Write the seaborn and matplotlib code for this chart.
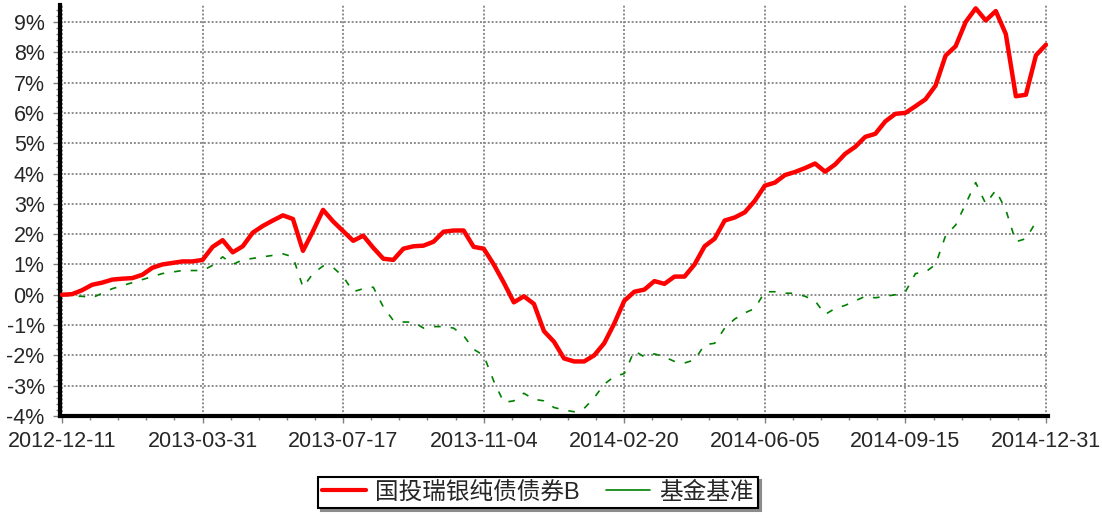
"""Fund vs benchmark cumulative return, 2012-12-11 to 2014-12-31"""
import numpy as np
import pandas as pd
import seaborn as sns
import matplotlib.pyplot as plt
from matplotlib.ticker import MultipleLocator, FuncFormatter

FUND_NAME = "国投瑞银纯债债券B"
BENCH_NAME = "基金基准"

# cumulative return in %, one value every 5 trading days
FUND = [0.0, 0.02, 0.15, 0.33, 0.4, 0.5, 0.53, 0.55, 0.66, 0.89,
        1.0, 1.05, 1.1, 1.1, 1.15, 1.58, 1.8, 1.4, 1.6, 2.05,
        2.27, 2.45, 2.62, 2.5, 1.45, 2.1, 2.8, 2.42, 2.1, 1.78,
        1.95, 1.55, 1.19, 1.15, 1.52, 1.6, 1.62, 1.75, 2.08, 2.12,
        2.12, 1.58, 1.52, 1.0, 0.4, -0.25, -0.05, -0.3, -1.2, -1.55,
        -2.1, -2.2, -2.2, -2.0, -1.6, -0.95, -0.2, 0.1, 0.17, 0.45,
        0.36, 0.6, 0.6, 1.0, 1.6, 1.85, 2.45, 2.55, 2.72, 3.1,
        3.6, 3.7, 3.95, 4.05, 4.18, 4.33, 4.06, 4.3, 4.65, 4.88,
        5.21, 5.31, 5.72, 5.97, 6.0, 6.22, 6.45, 6.9, 7.89, 8.2,
        9.0, 9.45, 9.05, 9.36, 8.6, 6.55, 6.6, 7.9, 8.25]
BENCH = [0.0, -0.05, -0.05, -0.1, 0.05, 0.2, 0.3, 0.4, 0.5, 0.6,
         0.7, 0.75, 0.8, 0.8, 0.8, 0.97, 1.25, 1.0, 1.15, 1.2,
         1.25, 1.3, 1.35, 1.25, 0.25, 0.7, 0.95, 0.9, 0.6, 0.1,
         0.2, 0.25, -0.4, -0.85, -0.9, -0.9, -1.1, -1.05, -1.05, -1.1,
         -1.35, -1.8, -2.0, -2.85, -3.55, -3.5, -3.25, -3.45, -3.5, -3.72,
         -3.8, -3.86, -3.75, -3.4, -2.95, -2.7, -2.6, -1.85, -2.05, -1.95,
         -2.05, -2.2, -2.25, -2.15, -1.65, -1.6, -1.1, -0.8, -0.6, -0.45,
         0.1, 0.1, 0.05, 0.05, -0.05, -0.2, -0.65, -0.45, -0.35, -0.2,
         -0.05, -0.1, -0.05, 0.0, 0.1, 0.7, 0.75, 1.0, 1.95, 2.3,
         3.0, 3.7, 3.0, 3.45, 2.8, 1.75, 1.85, 2.4, np.nan]

DATE_LABELS = ["2012-12-11", "2013-03-31", "2013-07-17", "2013-11-04",
               "2014-02-20", "2014-06-05", "2014-09-15", "2014-12-31"]
LABEL_EVERY = 14

df = pd.DataFrame({"step": np.arange(len(FUND)), "fund": FUND, "bench": BENCH})

sns.set_style("white")
plt.rcParams["font.family"] = ["Liberation Sans", "Noto Sans CJK SC"]

fig, ax = plt.subplots(figsize=(11.02, 5.18), dpi=100)
fig.subplots_adjust(left=60 / 1102, right=1048 / 1102, top=1 - 5 / 518, bottom=1 - 416 / 518)

sns.lineplot(data=df, x="step", y="fund", ax=ax, color="#ff0000", lw=3.2,
             label=FUND_NAME, zorder=3, solid_joinstyle="round")
sns.lineplot(data=df, x="step", y="bench", ax=ax, color="#008000", lw=1.2,
             linestyle=(0, (4, 6)), label=BENCH_NAME, zorder=2)

ax.set_xlim(-0.2, len(FUND) - 1 + 0.2)
ax.set_ylim(-4, 9.56)
ax.set_xticks(np.arange(0, len(FUND), LABEL_EVERY))
ax.set_xticklabels(DATE_LABELS)
ax.xaxis.set_minor_locator(MultipleLocator(LABEL_EVERY / 5))
ax.yaxis.set_major_locator(MultipleLocator(1))
ax.yaxis.set_minor_locator(MultipleLocator(0.2))
ax.yaxis.set_major_formatter(FuncFormatter(lambda v, p: f"{v:.0f}%"))
ax.set_xlabel("")
ax.set_ylabel("")

ax.set_axisbelow(True)
ax.grid(True, which="major", color="#8c8c8c", linestyle=(0, (1, 1)), lw=1.4)
for s in ["top", "right"]:
    ax.spines[s].set_visible(False)
for s in ["left", "bottom"]:
    ax.spines[s].set_color("black")
    ax.spines[s].set_linewidth(3)

ax.tick_params(which="both", direction="out", color="#808080", width=1,
               left=True, bottom=True, labelsize=15.5)
ax.tick_params(which="major", length=5)
ax.tick_params(which="minor", length=3)
ax.tick_params(axis="y", which="major", pad=6)
ax.tick_params(axis="x", which="major", pad=6)

leg = ax.legend(loc="upper left", bbox_to_anchor=(318 / 1102, 1 - 477 / 518),
                bbox_transform=fig.transFigure, borderaxespad=0, ncol=2,
                fontsize=17, frameon=True, fancybox=False, framealpha=1,
                edgecolor="black", borderpad=0.18, handlelength=1.85,
                handletextpad=0.4, columnspacing=1.1,
                shadow={"shade": 0.45, "alpha": 1})
leg.get_frame().set_linewidth(1.5)
leg.legend_handles[0].set_linewidth(3)
leg.legend_handles[1].set_linestyle("-")

fig.savefig("out.png", dpi=100)
